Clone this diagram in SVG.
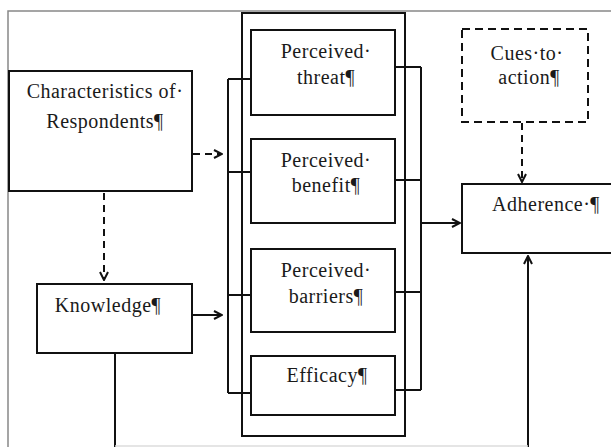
<svg xmlns="http://www.w3.org/2000/svg" width="611" height="447" viewBox="0 0 611 447">
<style>
.box{fill:#fff;stroke:#111;stroke-width:2}
.dbox{fill:#fff;stroke:#111;stroke-width:2;stroke-dasharray:8 5}
.ln{fill:none;stroke:#111;stroke-width:2}
.dln{fill:none;stroke:#111;stroke-width:2;stroke-dasharray:7 5}
.t{font-family:"Liberation Serif","Times New Roman",serif;font-size:20px;letter-spacing:0.5px;fill:#1a1a1a;text-anchor:middle}
</style>
<defs>
<marker id="ah" viewBox="0 0 10 10" refX="9" refY="5" markerWidth="10" markerHeight="10" markerUnits="userSpaceOnUse" orient="auto">
<path d="M1,1 L9,5 L1,9" fill="none" stroke="#111" stroke-width="2"/>
</marker>
</defs>
<rect x="0" y="0" width="611" height="447" fill="#fff"/>
<rect x="8" y="11" width="620" height="450" fill="none" stroke="#888" stroke-width="1.5"/>

<g id="outer-column">
<rect class="box" x="242" y="13" width="163" height="423"/>
</g>

<g id="connectors">
<path class="ln" d="M228,79 V393 M228,79 H251 M228,172 H251 M228,295 H251 M228,393 H251"/>
<path class="ln" d="M421,67 V390 M395,67 H421 M395,180 H421 M395,292 H421 M395,390 H421"/>
<path class="dln" d="M193,154 H222" marker-end="url(#ah)"/>
<path class="ln" d="M193,315 H222" marker-end="url(#ah)"/>
<path class="dln" d="M104,193 V280" marker-end="url(#ah)"/>
<path class="ln" d="M421,223 H460" marker-end="url(#ah)"/>
<path class="dln" d="M522,123 V182" marker-end="url(#ah)"/>
<path class="ln" d="M528,447 V256" marker-end="url(#ah)"/>
<path class="ln" d="M115,353 V447"/>
<path d="M115,446 H528" fill="none" stroke="#ddd" stroke-width="1.5"/>
</g>

<g id="characteristics">
<rect class="box" x="9" y="71" width="183" height="120"/>
<text class="t" x="105" y="98">Characteristics of·</text>
<text class="t" x="105" y="128">Respondents¶</text>
</g>

<g id="knowledge">
<rect class="box" x="37" y="284" width="155" height="69"/>
<text class="t" x="108" y="312">Knowledge¶</text>
</g>

<g id="perceived-threat">
<rect class="box" x="251" y="30" width="144" height="85"/>
<text class="t" x="326" y="58">Perceived·</text>
<text class="t" x="326" y="84">threat¶</text>
</g>

<g id="perceived-benefit">
<rect class="box" x="251" y="139" width="144" height="84"/>
<text class="t" x="326" y="167">Perceived·</text>
<text class="t" x="326" y="192">benefit¶</text>
</g>

<g id="perceived-barriers">
<rect class="box" x="251" y="249" width="144" height="83"/>
<text class="t" x="326" y="277">Perceived·</text>
<text class="t" x="326" y="303">barriers¶</text>
</g>

<g id="efficacy">
<rect class="box" x="251" y="356" width="144" height="59"/>
<text class="t" x="327" y="382">Efficacy¶</text>
</g>

<g id="cues-to-action">
<rect class="dbox" x="462" y="29" width="126" height="93"/>
<text class="t" x="527" y="60">Cues·to·</text>
<text class="t" x="529" y="84">action¶</text>
</g>

<g id="adherence">
<rect class="box" x="462" y="184" width="170" height="69"/>
<text class="t" x="546" y="211">Adherence·¶</text>
</g>
</svg>
